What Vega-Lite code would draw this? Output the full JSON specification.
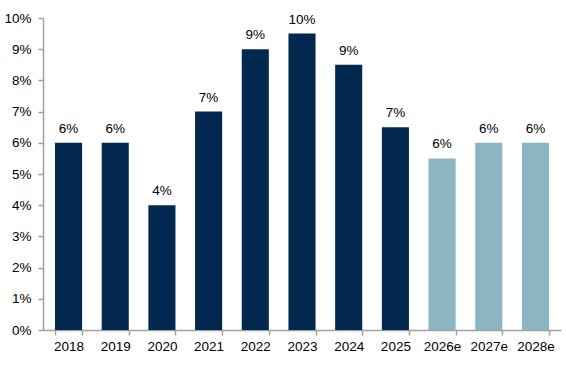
{
  "$schema": "https://vega.github.io/schema/vega-lite/v6.json",
  "autosize": "none",
  "width": 518,
  "height": 312,
  "padding": {"left": 43, "top": 18, "right": 5, "bottom": 38},
  "background": "white",
  "config": {
    "view": {"stroke": null},
    "font": "Liberation Sans",
    "axis": {"domainColor": "#A0A0A0", "tickColor": "#A0A0A0", "domainWidth": 1.5, "tickWidth": 1.5, "labelFont": "Liberation Sans", "labelFontSize": 13.5, "labelColor": "#000000", "grid": false, "title": null}
  },
  "data": {
    "values": [
      {"year": "2018", "value": 6, "label": "6%", "type": "actual"},
      {"year": "2019", "value": 6, "label": "6%", "type": "actual"},
      {"year": "2020", "value": 4, "label": "4%", "type": "actual"},
      {"year": "2021", "value": 7, "label": "7%", "type": "actual"},
      {"year": "2022", "value": 9, "label": "9%", "type": "actual"},
      {"year": "2023", "value": 9.5, "label": "10%", "type": "actual"},
      {"year": "2024", "value": 8.5, "label": "9%", "type": "actual"},
      {"year": "2025", "value": 6.5, "label": "7%", "type": "actual"},
      {"year": "2026e", "value": 5.5, "label": "6%", "type": "estimate"},
      {"year": "2027e", "value": 6, "label": "6%", "type": "estimate"},
      {"year": "2028e", "value": 6, "label": "6%", "type": "estimate"}
    ]
  },
  "encoding": {
    "x": {
      "field": "year", "type": "ordinal", "sort": null,
      "scale": {"paddingInner": 0.42, "paddingOuter": 0.257},
      "axis": {"labelAngle": 0, "tickBand": "extent", "tickSize": 5, "labelPadding": 4}
    },
    "y": {
      "field": "value", "type": "quantitative",
      "scale": {"domain": [0, 10], "nice": false},
      "axis": {"values": [0,1,2,3,4,5,6,7,8,9,10], "labelExpr": "datum.value + '%'", "tickSize": 5, "labelPadding": 7}
    }
  },
  "layer": [
    {
      "mark": {"type": "bar"},
      "encoding": {
        "color": {"field": "type", "type": "nominal", "scale": {"domain": ["actual", "estimate"], "range": ["#02284F", "#8CB5C4"]}, "legend": null}
      }
    },
    {
      "mark": {"type": "text", "baseline": "alphabetic", "dy": -10, "fontSize": 13.5, "color": "#000000", "font": "Liberation Sans"},
      "encoding": {
        "text": {"field": "label", "type": "nominal"}
      }
    }
  ]
}
